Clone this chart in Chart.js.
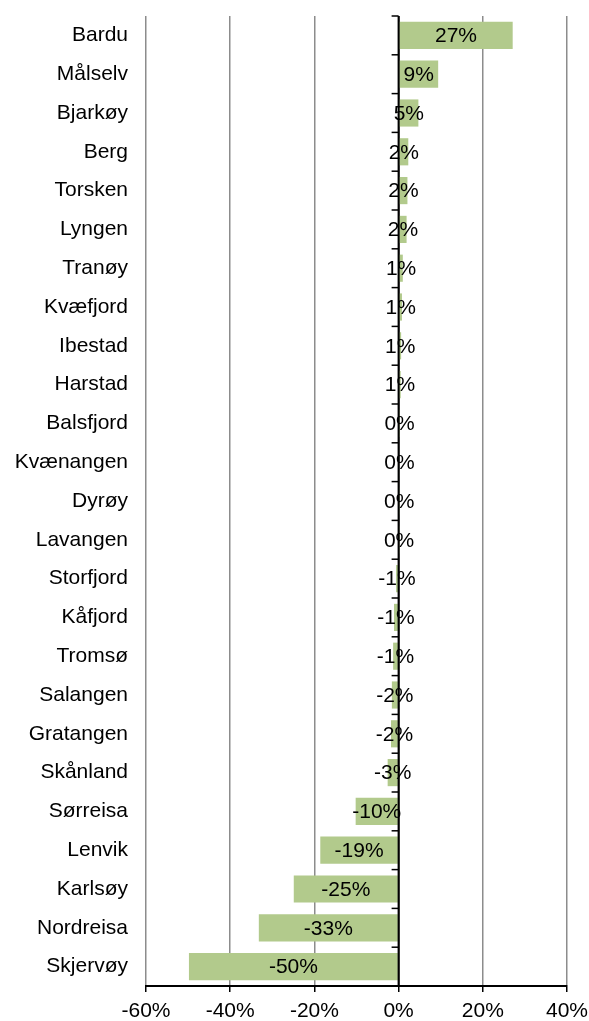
<!DOCTYPE html>
<html>
<head>
<meta charset="utf-8">
<script src="https://cdn.jsdelivr.net/npm/chart.js@4"></script>
<style>
html,body{margin:0;padding:0;background:#fff;}
#wrap{width:589px;height:1021px;position:relative;}
</style>
</head>
<body>
<div id="wrap"><canvas id="c"></canvas></div>
<script>
const categories = ["Bardu","Målselv","Bjarkøy","Berg","Torsken","Lyngen","Tranøy","Kvæfjord","Ibestad","Harstad","Balsfjord","Kvænangen","Dyrøy","Lavangen","Storfjord","Kåfjord","Tromsø","Salangen","Gratangen","Skånland","Sørreisa","Lenvik","Karlsøy","Nordreisa","Skjervøy"];
const values = [27.1,9.4,4.7,2.3,2.1,1.9,1.0,0.8,0.6,0.5,0.3,0.2,0.1,0.05,-0.6,-1.1,-1.3,-1.6,-1.8,-2.6,-10.2,-18.6,-24.9,-33.2,-49.8];
const xTicks = [-60,-40,-20,0,20,40];

const FONT = "'Liberation Sans', Arial, sans-serif";

const axisPlugin = {
  id: 'axisPlugin',
  afterDatasetsDraw(chart) {
    const ctx = chart.ctx;
    const xs = chart.scales.x, ys = chart.scales.y;
    const x0 = xs.getPixelForValue(0);
    const area = chart.chartArea;
    ctx.save();
    ctx.strokeStyle = '#000';
    ctx.lineWidth = 2;
    ctx.beginPath();
    ctx.moveTo(x0, area.top);
    ctx.lineTo(x0, area.bottom);
    ctx.stroke();
    const n = categories.length;
    const step = (ys.getPixelForValue(n - 1) - ys.getPixelForValue(0)) / (n - 1);
    ctx.lineWidth = 1.5;
    for (let i = 0; i <= n; i++) {
      const y = ys.getPixelForValue(0) - step / 2 + i * step;
      ctx.beginPath();
      ctx.moveTo(x0 - 7, y);
      ctx.lineTo(x0, y);
      ctx.stroke();
    }
    const meta = chart.getDatasetMeta(0);
    ctx.fillStyle = '#000';
    ctx.font = "21px " + FONT;
    ctx.textAlign = 'center';
    ctx.textBaseline = 'middle';
    meta.data.forEach((bar, i) => {
      let r = Math.round(values[i]);
      if (r === 0) r = 0;
      const cx = (bar.x + bar.base) / 2;
      ctx.fillText(r + '%', cx, bar.y + 1);
    });
    ctx.restore();
  }
};

new Chart(document.getElementById('c'), {
  type: 'bar',
  data: {
    labels: categories,
    datasets: [{
      data: values,
      backgroundColor: '#b2ca8c',
      borderWidth: 0,
      barPercentage: 0.7,
      categoryPercentage: 1.0
    }]
  },
  options: {
    indexAxis: 'y',
    responsive: true,
    maintainAspectRatio: false,
    animation: false,
    events: [],
    layout: { padding: { top: 16, left: 0, right: 0, bottom: 0 } },
    plugins: { legend: { display: false }, tooltip: { enabled: false } },
    scales: {
      x: {
        min: -60, max: 40,
        afterBuildTicks(axis) { axis.ticks = xTicks.map(v => ({ value: v })); },
        afterFit(scale) { scale.height = 35; scale.paddingRight = 22; scale.paddingLeft = 0; },
        ticks: {
          callback: v => v + '%',
          color: '#000',
          font: { family: FONT, size: 21, lineHeight: 1.1 },
          padding: 8,
          maxRotation: 0
        },
        grid: {
          color: ctx => (ctx.tick && ctx.tick.value === 0) ? '#000' : '#8c8c8c',
          lineWidth: 1.5,
          tickColor: '#000',
          tickLength: 6
        },
        border: { display: true, color: '#000', width: 2 }
      },
      y: {
        afterFit(scale) { scale.width = 146; scale.paddingTop = 0; scale.paddingBottom = 0; },
        ticks: {
          color: '#000',
          font: { family: FONT, size: 21 },
          padding: 18,
          autoSkip: false
        },
        grid: { display: false, drawTicks: false },
        border: { display: false }
      }
    }
  },
  plugins: [axisPlugin]
});
</script>
</body>
</html>
